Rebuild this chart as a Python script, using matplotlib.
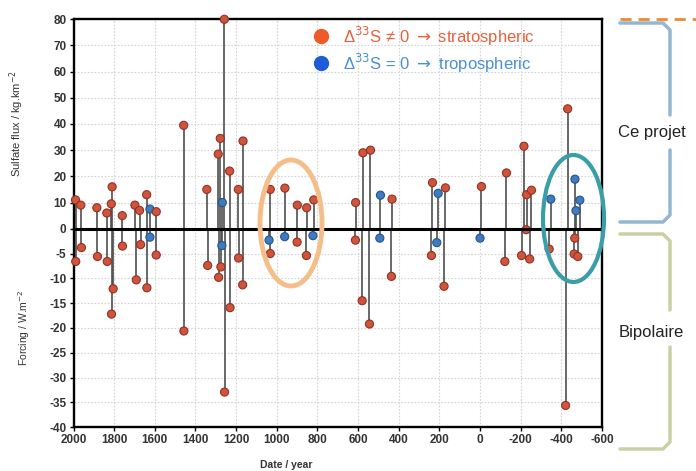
import numpy as np
import matplotlib.pyplot as plt
from matplotlib.patches import Ellipse
from matplotlib.lines import Line2D

plt.rcParams['font.family'] = ['Liberation Sans', 'DejaVu Sans']
plt.rcParams['axes.unicode_minus'] = False

# sulfate flux (upper half), kg.km-2 ; 'b' = tropospheric (blue), 'r' = stratospheric
up_year = [1990, 1964, 1885, 1836, 1814, 1810, 1760, 1698, 1675, 1640, 1624, 1593,
           1458, 1344, 1288, 1278, 1268, 1258, 1232, 1189, 1166, 1032, 960, 899,
           853, 818, 612, 576, 539, 490, 433, 234, 206, 170, -7, -130, -216, -229,
           -253, -348, -431, -467, -472, -491]
up_flux = [11, 9, 8, 6, 9.5, 16, 5, 9, 7, 13, 7.5, 6.5,
           39.5, 15, 28.5, 34.5, 10, 80, 22, 15, 33.5, 15, 15.5, 9,
           8, 11, 10, 29, 30, 12.8, 11.3, 17.6, 13.5, 15.6, 16.1, 21.3, 31.5, 13,
           14.7, 11.3, 45.8, 18.9, 6.9, 10.9]
up_type = ['r', 'r', 'r', 'r', 'r', 'r', 'r', 'r', 'r', 'r', 'b', 'r',
           'r', 'r', 'r', 'r', 'b', 'r', 'r', 'r', 'r', 'r', 'r', 'r',
           'r', 'r', 'r', 'r', 'r', 'b', 'r', 'r', 'b', 'r', 'r', 'r', 'r', 'r',
           'r', 'b', 'r', 'b', 'b', 'b']

# forcing (lower half), W.m-2
lo_year = [1989, 1961, 1882, 1834, 1805, 1813, 1759, 1691, 1670, 1639, 1624, 1593,
           1457, 1340, 1286, 1275, 1270, 1257, 1230, 1188, 1168, 1038, 1032, 961,
           900, 854, 822, 613, 580, 544, 493, 436, 239, 213, 177, 0, -122, -204,
           -227, -244, -340, -421, -466, -463, -481]
lo_forc = [-6.6, -3.8, -5.6, -6.6, -12.1, -17.2, -3.5, -10.3, -3.2, -11.9, -1.7, -5.3,
           -20.6, -7.4, -9.8, -7.7, -3.4, -32.9, -15.9, -5.9, -11.3, -2.3, -5.0, -1.6,
           -2.7, -5.4, -1.4, -2.3, -14.5, -19.2, -1.9, -9.6, -5.4, -2.8, -11.6, -1.9, -6.6, -5.4,
           -0.2, -6.1, -4.1, -35.6, -1.9, -5.1, -5.6]
lo_type = ['r', 'r', 'r', 'r', 'r', 'r', 'r', 'r', 'r', 'r', 'b', 'r',
           'r', 'r', 'r', 'r', 'b', 'r', 'r', 'r', 'r', 'b', 'r', 'b',
           'r', 'r', 'b', 'r', 'r', 'r', 'b', 'r', 'r', 'b', 'r', 'b', 'r', 'r',
           'r', 'r', 'r', 'r', 'r', 'r', 'r']

fill = {'r': '#d2533b', 'b': '#3d7cc0'}
edge = {'r': '#8e3325', 'b': '#24548a'}

W, H = 696, 471
fig = plt.figure(figsize=(W / 100, H / 100), dpi=100)
ax_top = fig.add_axes([73.5 / W, (H - 228.7) / H, 528.5 / W, 209.4 / H])
ax_bot = fig.add_axes([73.5 / W, (H - 427.3) / H, 528.5 / W, 198.6 / H], sharex=ax_top)
ax_bot.patch.set_visible(False)

for ax, yrs, vals, kind in [(ax_top, up_year, up_flux, up_type),
                            (ax_bot, lo_year, lo_forc, lo_type)]:
    ax.vlines(yrs, 0, vals, color='#4f4f4f', lw=1.2, zorder=2, clip_on=False)
    ax.scatter(yrs, vals, s=34, c=[fill[k] for k in kind],
               edgecolors=[edge[k] for k in kind], linewidths=0.8, zorder=3, clip_on=False)
    ax.grid(True, color='#d4d4d4', ls=(0, (1.5, 1.5)), lw=0.8)
    ax.set_axisbelow(True)
    for s in ax.spines.values():
        s.set_linewidth(1.7)
        s.set_color('black')
    ax.tick_params(direction='out', length=3, width=1, labelsize=8.5,
                   labelcolor='#333333', pad=2)

ax_top.set_xlim(2000, -600)
ax_top.set_ylim(0, 80)
ax_top.set_yticks(np.arange(0, 81, 10))
ax_top.spines['bottom'].set_visible(False)
ax_top.tick_params(axis='x', which='both', bottom=False, labelbottom=False)

ax_bot.set_ylim(-40, 0)
ax_bot.set_yticks(np.arange(-40, 0, 5))
ax_bot.set_xticks(np.arange(2000, -601, -200))
ax_bot.spines['top'].set_visible(False)
ax_bot.axhline(0, color='black', lw=2.2, zorder=4, clip_on=False)
for lab in ax_bot.get_yticklabels() + ax_bot.get_xticklabels() + ax_top.get_yticklabels():
    lab.set_fontweight('bold')

T = fig.dpi_scale_trans


def px(x, y):
    return x / 100, (H - y) / 100


fig.text(*px(17, 124), 'Sulfate flux / kg.km$^{-2}$', rotation=90, ha='center',
         va='center', fontsize=8, color='#333333', transform=T)
fig.text(*px(24, 328), 'Forcing / W.m$^{-2}$', rotation=90, ha='center',
         va='center', fontsize=7.5, color='#333333', transform=T)
fig.text(*px(286, 465), 'Date / year', ha='center', va='center', fontsize=7.5,
         fontweight='bold', color='#333333', transform=T)

# legend
fig.add_artist(Line2D([px(321, 36)[0]], [px(321, 36)[1]], marker='o', ms=10,
                      color='#f05a28', mec='#f05a28', transform=T))
fig.add_artist(Line2D([px(321, 63)[0]], [px(321, 63)[1]], marker='o', ms=10,
                      color='#1f5ad8', mec='#1f5ad8', transform=T))
fig.text(*px(343, 36), 'Δ$^{33}$S ≠ 0 $\\rightarrow$ stratospheric', ha='left', va='center',
         fontsize=12, color='#e8603c', transform=T)
fig.text(*px(343, 63), 'Δ$^{33}$S = 0 $\\rightarrow$ tropospheric', ha='left', va='center',
         fontsize=12, color='#4a8fd6', transform=T)

# highlight ellipses
fig.add_artist(Ellipse(px(291, 223), 62 / 100, 126 / 100, fill=False,
                       ec='#f5bd88', lw=3.5, transform=T))
fig.add_artist(Ellipse(px(573.5, 218.5), 61 / 100, 127 / 100, fill=False,
                       ec='#3a9ea8', lw=3, transform=T))

# right-hand annotations
fig.add_artist(Line2D([px(620, 19)[0], px(696, 19)[0]], [px(620, 19)[1]] * 2,
                      color='#f08a30', lw=2, ls=(0, (4, 2.5)), transform=T))


def bracket(y0, y1, gap0, gap1, color):
    xs1 = [620, 663, 670, 670]
    ys1 = [y0, y0, y0 + 7, gap0]
    xs2 = [670, 670, 663, 620]
    ys2 = [gap1, y1 - 7, y1, y1]
    for xs, ys in [(xs1, ys1), (xs2, ys2)]:
        p = [px(a, b) for a, b in zip(xs, ys)]
        fig.add_artist(Line2D([q[0] for q in p], [q[1] for q in p], color=color,
                              lw=2.5, solid_capstyle='round', transform=T))


bracket(23, 222, 115, 150, '#94b6d0')
bracket(234, 449, 310, 347, '#c9d1a4')
fig.text(*px(652, 133), 'Ce projet', ha='center', va='center', fontsize=12,
         color='#222222', transform=T)
fig.text(*px(651, 333), 'Bipolaire', ha='center', va='center', fontsize=12,
         color='#222222', transform=T)

fig.savefig('out.png', dpi=100)
